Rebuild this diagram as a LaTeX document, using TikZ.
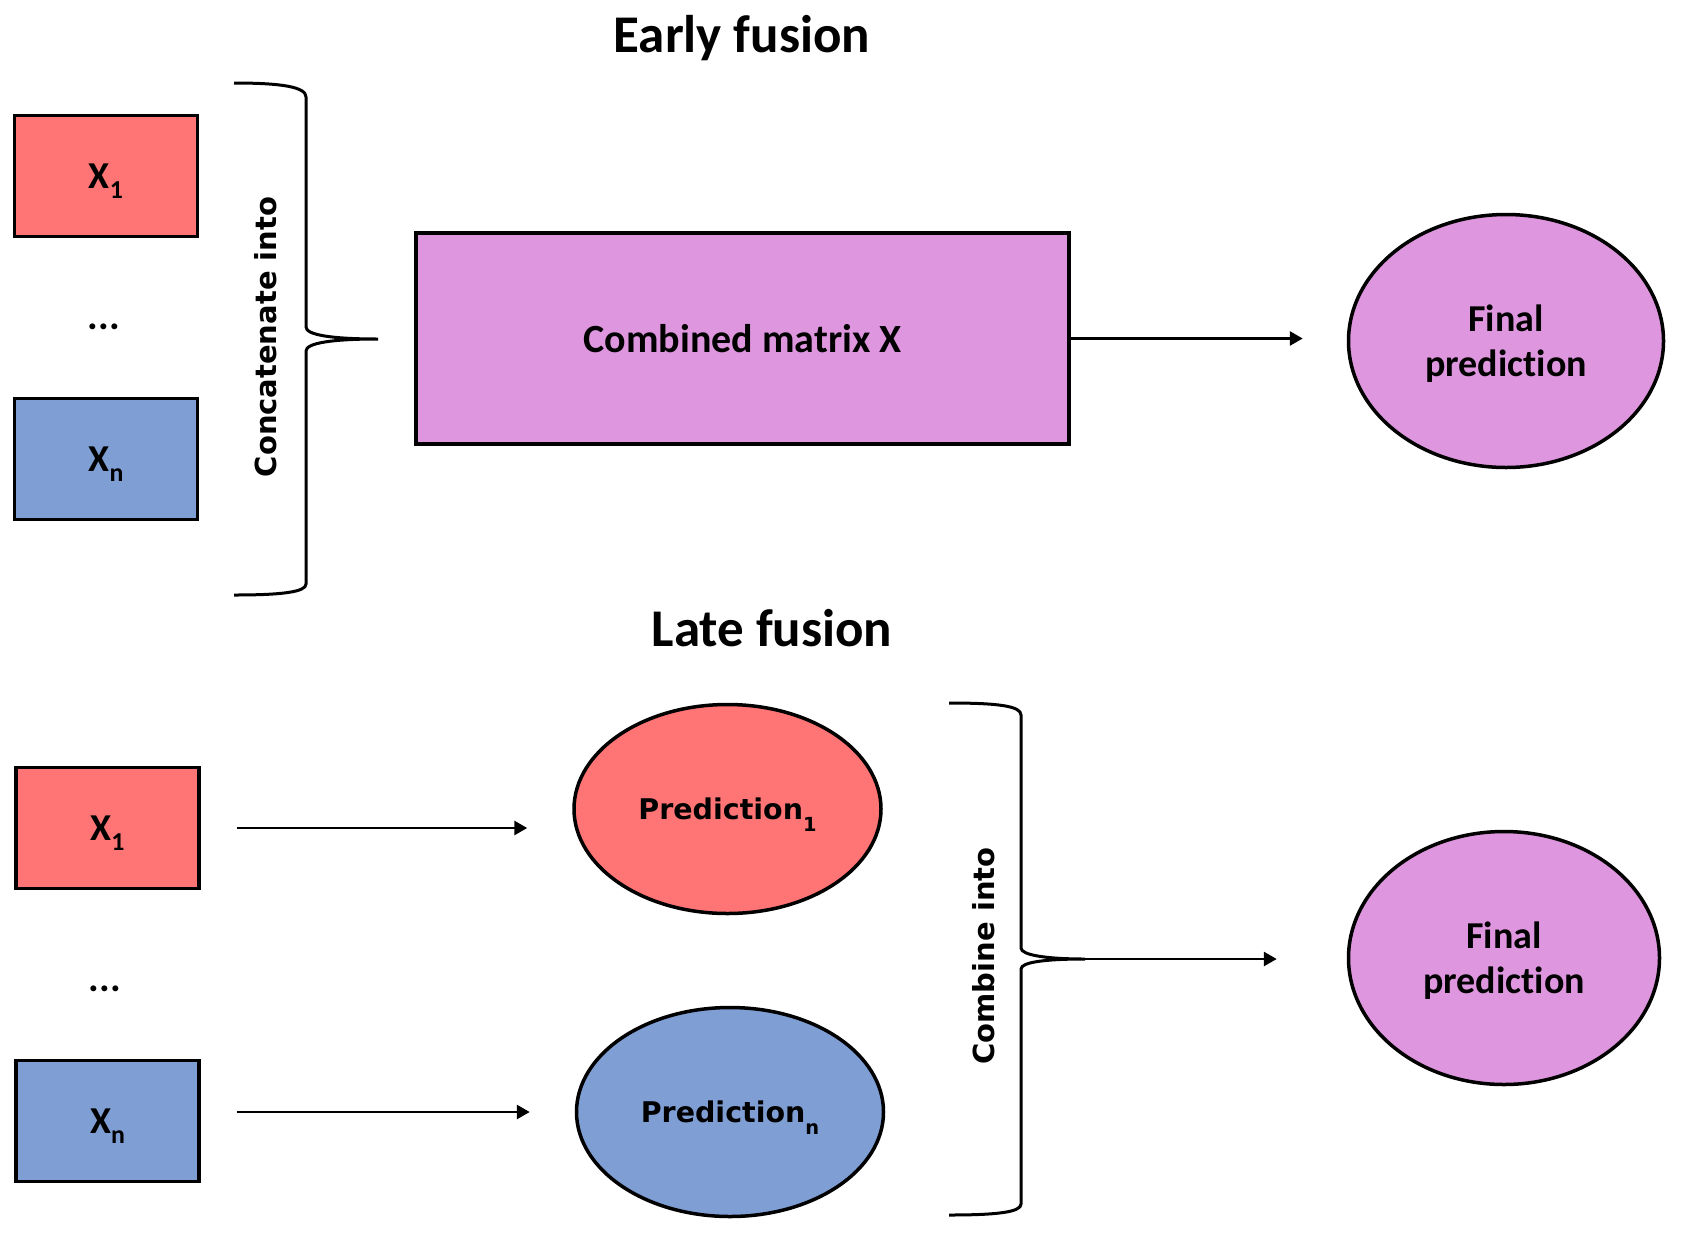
\documentclass[tikz,border=0pt]{standalone}
\usepackage{fontspec}
\usepackage{graphicx}
\setmainfont{Carlito}[Ligatures = NoCommon]
\newfontfamily\widesans{DejaVu Sans}
\newcommand\lowsub[2][0.27em]{\raisebox{-#1}{\scalebox{0.68}{#2}}}
\usetikzlibrary{arrows.meta}
\usetikzlibrary{shapes.geometric}
\tikzset{xbox/.style = {draw, line width = 3.5, minimum width = 183, minimum height = 121, inner sep = 0, text depth = 0, font = \fontsize{38}{45}\selectfont\bfseries}}
\tikzset{oval/.style = {draw, ellipse, line width = 3.5, inner sep = 0, text depth = 0, align = center}}
\tikzset{brace/.style = {line width = 3}}
\tikzset{arr/.style = {-{Triangle[length = 13pt, width = 14pt]}, line width = 2.8}}
\tikzset{side/.style = {font = \widesans\fontsize{29}{34}\selectfont\bfseries}}
\definecolor{mred}{RGB}{255, 116, 116}
\definecolor{mblue}{RGB}{126, 158, 212}
\definecolor{mviolet}{RGB}{222, 150, 222}

\begin{document}
\begin{tikzpicture}[x = 1pt, y = -1pt]
      \useasboundingbox [fill = white] (0, 0) rectangle (1686, 1256);

      % early fusion
      \node [anchor = base, font = \fontsize{53}{60}\selectfont\bfseries] (titleA) at (742, 52) {Early fusion};
      \node [xbox, fill = mred] (xa1) at (106, 176) {X\lowsub{1}};
      \node [anchor = base, font = \fontsize{40}{46}\selectfont\bfseries] (dotsA) at (104, 329) {...};
      \node [xbox, fill = mblue] (xan) at (106, 459) {X\lowsub{n}};

      \draw [brace] (234, 83) .. controls (282, 83) and (306, 87) .. (306, 97) -- (306, 327)
        .. controls (306, 335) and (332, 339) .. (378, 339) coordinate (tipA)
        .. controls (332, 339) and (306, 343) .. (306, 351) -- (306, 584)
        .. controls (306, 592) and (282, 595) .. (234, 595);
      \node [side, rotate = 90] (concat) at (266, 337) {Concatenate into};

      \node [draw, line width = 3.5, fill = mviolet, minimum width = 653, minimum height = 211, text depth = 0, font = \fontsize{40}{46}\selectfont\bfseries] (comb) at (742.5, 338.5) {Combined matrix X};
      \node [oval, fill = mviolet, minimum width = 315, minimum height = 253, font = \fontsize{38}{45}\selectfont\bfseries] (finalA) at (1506, 341) {Final\\prediction};
      \draw [arr, shorten >= 44] (comb.east) -- (comb.east -| finalA.west);

      % late fusion
      \node [anchor = base, font = \fontsize{53}{60}\selectfont\bfseries] (titleB) at (772, 646) {Late fusion};
      \node [xbox, fill = mred] (xb1) at (107.5, 828) {X\lowsub{1}};
      \node [anchor = base, font = \fontsize{40}{46}\selectfont\bfseries] (dotsB) at (105, 991) {...};
      \node [xbox, fill = mblue] (xbn) at (107.5, 1121) {X\lowsub{n}};

      \node [oval, fill = mred, minimum width = 307, minimum height = 209, font = \widesans\fontsize{28.5}{34}\selectfont\bfseries] (pb1) at (727.5, 809) {Prediction\lowsub[0.42em]{1}};
      \node [oval, fill = mblue, minimum width = 307, minimum height = 209, font = \widesans\fontsize{28.5}{34}\selectfont\bfseries] (pbn) at (730, 1112) {Prediction\lowsub[0.42em]{n}};
      \draw [arr, shorten <= 36, shorten >= 45] (xb1.east) -- (xb1.east -| pb1.west);
      \draw [arr, shorten <= 36, shorten >= 45] (xbn.east |- pbn.west) -- (pbn.west);

      \draw [brace] (949, 703) .. controls (998, 703) and (1021, 706) .. (1021, 715) -- (1021, 948)
        .. controls (1021, 955) and (1046, 959) .. (1085, 959) coordinate (tipB)
        .. controls (1046, 959) and (1021, 962) .. (1021, 969) -- (1021, 1204)
        .. controls (1021, 1212) and (998, 1215) .. (949, 1215);
      \node [side, rotate = 90] (combine) at (984, 956) {Combine into};

      \node [oval, fill = mviolet, minimum width = 311, minimum height = 253, font = \fontsize{38}{45}\selectfont\bfseries] (finalB) at (1504, 958) {Final\\prediction};
      \draw [arr, shorten >= 70] (tipB) -- (tipB -| finalB.west);
    \end{tikzpicture}
\end{document}
